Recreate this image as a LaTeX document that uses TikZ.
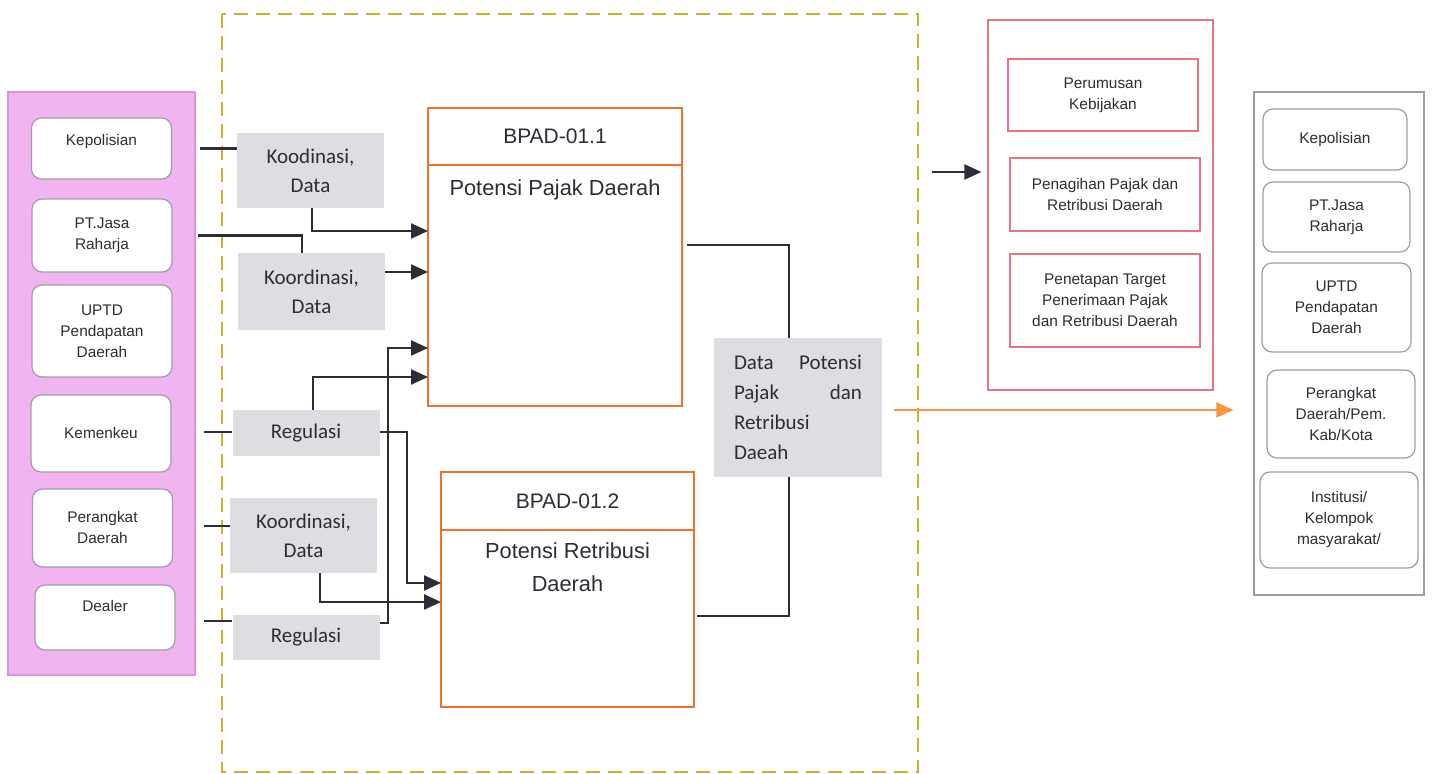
\documentclass[tikz,border=0pt]{standalone}
\usepackage{fontspec}
\setmainfont{Liberation Sans}
\newfontfamily\calibri{Carlito}
\usetikzlibrary{arrows.meta, % 箭头
  positioning,               % 相对地放置节点
  calc}
\hyphenpenalty=10000

\definecolor{pinkfill}{RGB}{240,180,240}
\definecolor{pinkline}{RGB}{215,150,215}
\definecolor{labgray}{RGB}{224,221,226}
\definecolor{boxgray}{RGB}{165,155,165}
\definecolor{bpadorange}{RGB}{240,112,45}
\definecolor{dashyellow}{RGB}{200,180,40}
\definecolor{redline}{RGB}{232,115,135}
\definecolor{linegray}{RGB}{45,45,55}
\definecolor{textgray}{RGB}{45,45,55}
\definecolor{outorange}{RGB}{247,150,60}

\begin{document}
\begin{tikzpicture}[x=0.5pt,y=-0.5pt,>={Triangle[length=8.5pt,width=7.5pt]},
  % 全局: 1 个单位 = 参考图中的 1 像素
  % 以下定义了几个主要的style:
  panel/.style={draw=pinkline,fill=pinkfill,line width=0.6pt},
  lbox/.style={draw=boxgray,fill=white,rounded corners=5pt,line width=0.6pt,
    minimum width=70pt,align=center,text=textgray,font=\fontsize{7.7}{10.5}\selectfont},
  label box/.style={fill=labgray,minimum width=73.5pt,align=center,text=textgray,
    font=\calibri\fontsize{10.5}{14.5}\selectfont},
  headbox/.style={draw=bpadorange,line width=1pt,outer sep=0pt,minimum width=127pt,
    text=textgray,font=\fontsize{10.5}{12}\selectfont},
  bodybox/.style={headbox},
  bodytext/.style={align=center,text=textgray,font=\fontsize{10.9}{16.5}\selectfont},
  redbox/.style={draw=redline,line width=0.6pt,minimum width=95pt,align=center,
    text=textgray,font=\fontsize{7.7}{10.5}\selectfont},
  conn/.style={draw=linegray,line width=1.2pt},
  arr/.style={conn,->}]

  \useasboundingbox (0,0) rectangle (1432,774);
  \fill[white] (0,0) rectangle (1432,774);

  % 左边: 数据来源
  \node[panel,minimum width=93.5pt,minimum height=291.5pt] (lpanel) at (101.5,383.5) {};
  \node[lbox,minimum height=30.5pt,text depth=8.5pt] (kepL) at (101.5,148.5) {Kepolisian};
  \node[lbox,minimum height=36.5pt] (jasaL) at (102,235.5) {PT.Jasa\\Raharja};
  \node[lbox,minimum height=46pt] (uptdL) at (102,331) {UPTD\\Pendapatan\\Daerah};
  \node[lbox,minimum height=38.5pt] (kemL) at (101,433.5) {Kemenkeu};
  \node[lbox,minimum height=39pt] (perL) at (102.5,528) {Perangkat\\Daerah};
  \node[lbox,minimum height=32.5pt,text depth=12pt] (deaL) at (105,617.5) {Dealer};

  % 虚线框
  \draw[dashyellow,line width=0.9pt,dash pattern=on 7pt off 4pt] (222,14) rectangle (918,772);

  % 灰色的标签
  \node[label box,minimum height=37.5pt] (lab1) at (310.5,170.5) {Koodinasi,\\Data};
  \node[label box,minimum height=38.5pt] (lab2) at (311.5,291.5) {Koordinasi,\\Data};
  \node[label box,minimum height=23pt] (reg1) at (306,433) {Regulasi};
  \node[label box,minimum height=37.5pt] (lab3) at (303.5,535.5) {Koordinasi,\\Data};
  \node[label box,minimum height=22.5pt] (reg2) at (306,637.5) {Regulasi};

  % BPAD 两个方框
  \node[bodybox,minimum height=120.5pt] (bpad1) at (555,285.5) {};
  \node[headbox,minimum height=28.5pt] (bpad1h) [above=0pt of bpad1] {BPAD-01.1};
  \node[bodytext] (bpad1t) [below=4pt of bpad1.north] {Potensi Pajak Daerah};

  \node[bodybox,minimum width=126.5pt,minimum height=88.5pt] (bpad2) at (567.5,618.5) {};
  \node[headbox,minimum width=126.5pt,minimum height=29pt] (bpad2h) [above=0pt of bpad2] {BPAD-01.2};
  \node[bodytext] (bpad2t) [below=3pt of bpad2.north] {Potensi Retribusi\\Daerah};

  % 输出的数据
  \node[fill=labgray,minimum width=84pt,minimum height=69.5pt,text width=64pt,
    align=justify,text=textgray,font=\calibri\fontsize{10.5}{15}\selectfont] (data) at (798,407.5)
    {Data Potensi\linebreak Pajak dan\linebreak Retribusi\newline Daeah};
  \coordinate (dtop) at ([xshift=-4.5pt]data.north);
  \coordinate (dbot) at ([xshift=-4.5pt]data.south);

  % 中右: 用途
  \node[draw=redline,line width=0.6pt,minimum width=112.5pt,minimum height=185pt] (mpanel) at (1100.5,205) {};
  \node[redbox,minimum height=36pt] (rumus) at (1103,95) {Perumusan\\Kebijakan};
  \node[redbox,minimum height=36.5pt] (tagih) at (1105,194.5) {Penagihan Pajak dan\\Retribusi Daerah};
  \node[redbox,minimum height=46.5pt] (target) at (1105,300.5) {Penetapan Target\\Penerimaan Pajak\\dan Retribusi Daerah};

  % 右边: 使用者
  \node[draw=boxgray,line width=0.6pt,minimum width=85pt,minimum height=251.5pt] (rpanel) at (1339,343.5) {};
  \node[lbox,minimum width=72pt,minimum height=30.5pt] (kepR) at (1335,139.5) {Kepolisian};
  \node[lbox,minimum width=73.5pt,minimum height=35pt] (jasaR) at (1336.5,217) {PT.Jasa\\Raharja};
  \node[lbox,minimum width=74.5pt,minimum height=44.5pt] (uptdR) at (1336.5,307.5) {UPTD\\Pendapatan\\Daerah};
  \node[lbox,minimum width=74pt,minimum height=44pt] (perR) at (1341,414) {Perangkat\\Daerah/Pem.\\Kab/Kota};
  \node[lbox,minimum width=79pt,minimum height=48pt] (instR) at (1339,520) {Institusi/\\Kelompok\\masyarakat/};

  % 连线
  \draw[conn,shorten <=2pt] (kepL.east -| lpanel.east) -- (kepL.east -| lab1.west);
  \draw[conn,shorten <=1pt] (jasaL.east -| lpanel.east) -| ([xshift=-4.75pt]lab2.north);
  \draw[conn,shorten <=4pt] ([yshift=0.75pt]kemL.east -| lpanel.east) -- ([yshift=0.75pt]kemL.east -| reg1.west);
  \draw[conn,shorten <=4pt] ([yshift=1pt]perL.east -| lpanel.east) -- ([yshift=1pt]perL.east -| lab3.west);
  \draw[conn,shorten <=4pt] ([yshift=-1.75pt]deaL.east -| lpanel.east) -- ([yshift=-1.75pt]deaL.east -| reg2.west);

  \coordinate (a1) at ([yshift=-33pt]bpad1.north west);
  \coordinate (a2) at ([yshift=-53.5pt]bpad1.north west);
  \coordinate (a3) at ([yshift=-91.5pt]bpad1.north west);
  \coordinate (a4) at ([yshift=-106pt]bpad1.north west);
  \coordinate (b1) at ([yshift=-26.5pt]bpad2.north west);
  \coordinate (b2) at ([yshift=-36pt]bpad2.north west);

  \draw[arr] ([xshift=0.75pt]lab1.south) |- (a1);
  \draw[arr] (lab2.east |- a2) -- (a2);
  \draw[arr] ([yshift=7.25pt]reg2.east) -- ++(4pt,0pt) |- (a3);
  \draw[arr] ([xshift=3.5pt]reg1.north) |- (a4);
  \draw[arr] ([yshift=0.5pt]reg1.east) -- ++(13.5pt,0pt) |- (b1);
  \draw[arr] ([xshift=8.25pt]lab3.south) |- (b2);

  \draw[conn,shorten <=2.5pt] ([yshift=20.25pt]bpad1.east) -| (dtop);
  \draw[conn,shorten <=1.5pt] ([yshift=1.25pt]bpad2.east) -| (dbot);

  \draw[outorange,line width=1pt,-{Triangle[length=8.5pt,width=7.5pt]},shorten <=6pt,shorten >=10pt]
    ([yshift=-1.25pt]data.east) -- ([yshift=-1.25pt]data.east -| rpanel.west);

  \coordinate (feed) at (932,172);
  \draw[arr,shorten >=3pt] (feed) -- (feed -| mpanel.west);
\end{tikzpicture}
\end{document}
